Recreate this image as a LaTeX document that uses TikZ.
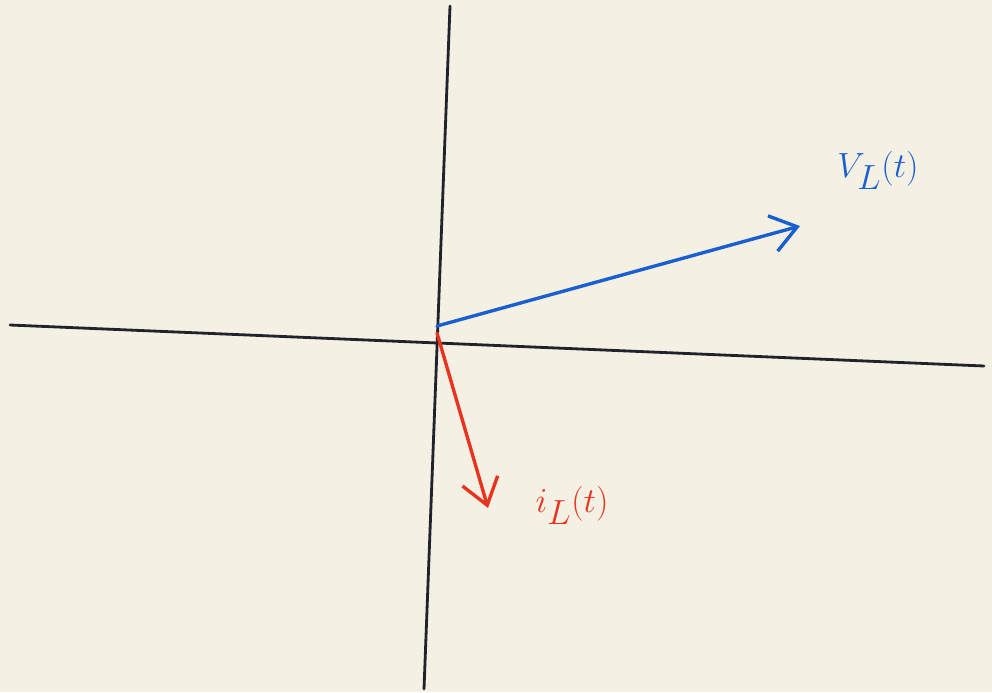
\documentclass[tikz,border=0pt]{standalone}
\usetikzlibrary{arrows.meta}
\definecolor{paper}{HTML}{F5F0E4}
\definecolor{penblue}{HTML}{1A5FD0}
\definecolor{penred}{HTML}{E8341E}
\definecolor{penblack}{HTML}{22222C}
\tikzset{
  axisline/.style={penblack, line width=2pt, line cap=round},
  phasor/.style={line width=2.4pt, line cap=round, -{Straight Barb[length=18pt,width=26pt,line width=2.4pt]}},
  plabel/.style={font=\fontsize{38}{38}\selectfont}
}
\begin{document}
\begin{tikzpicture}[x=0.025cm,y=-0.025cm]
\fill[paper] (0,0) rectangle (992,692);
\useasboundingbox (0,0) rectangle (992,692);
\coordinate (xl) at (10,325);
\coordinate (xr) at (984,366);
\coordinate (yt) at (450,6);
\coordinate (yb) at (424,689);
\coordinate (ob) at (437,326);
\coordinate (or) at (437,333);
\coordinate (vb) at (800,226);
\coordinate (ir) at (488,508);
\draw[axisline] (xl) -- (xr);
\draw[axisline] (yt) -- (yb);
\draw[phasor, penblue] (ob) -- (vb);
\draw[phasor, penred] (or) -- (ir);
\node[plabel, penblue] (vl) at (878,170) {$V_L(t)$};
\node[plabel, penred] (il) at (572,505) {$i_L(t)$};
\end{tikzpicture}
\end{document}
